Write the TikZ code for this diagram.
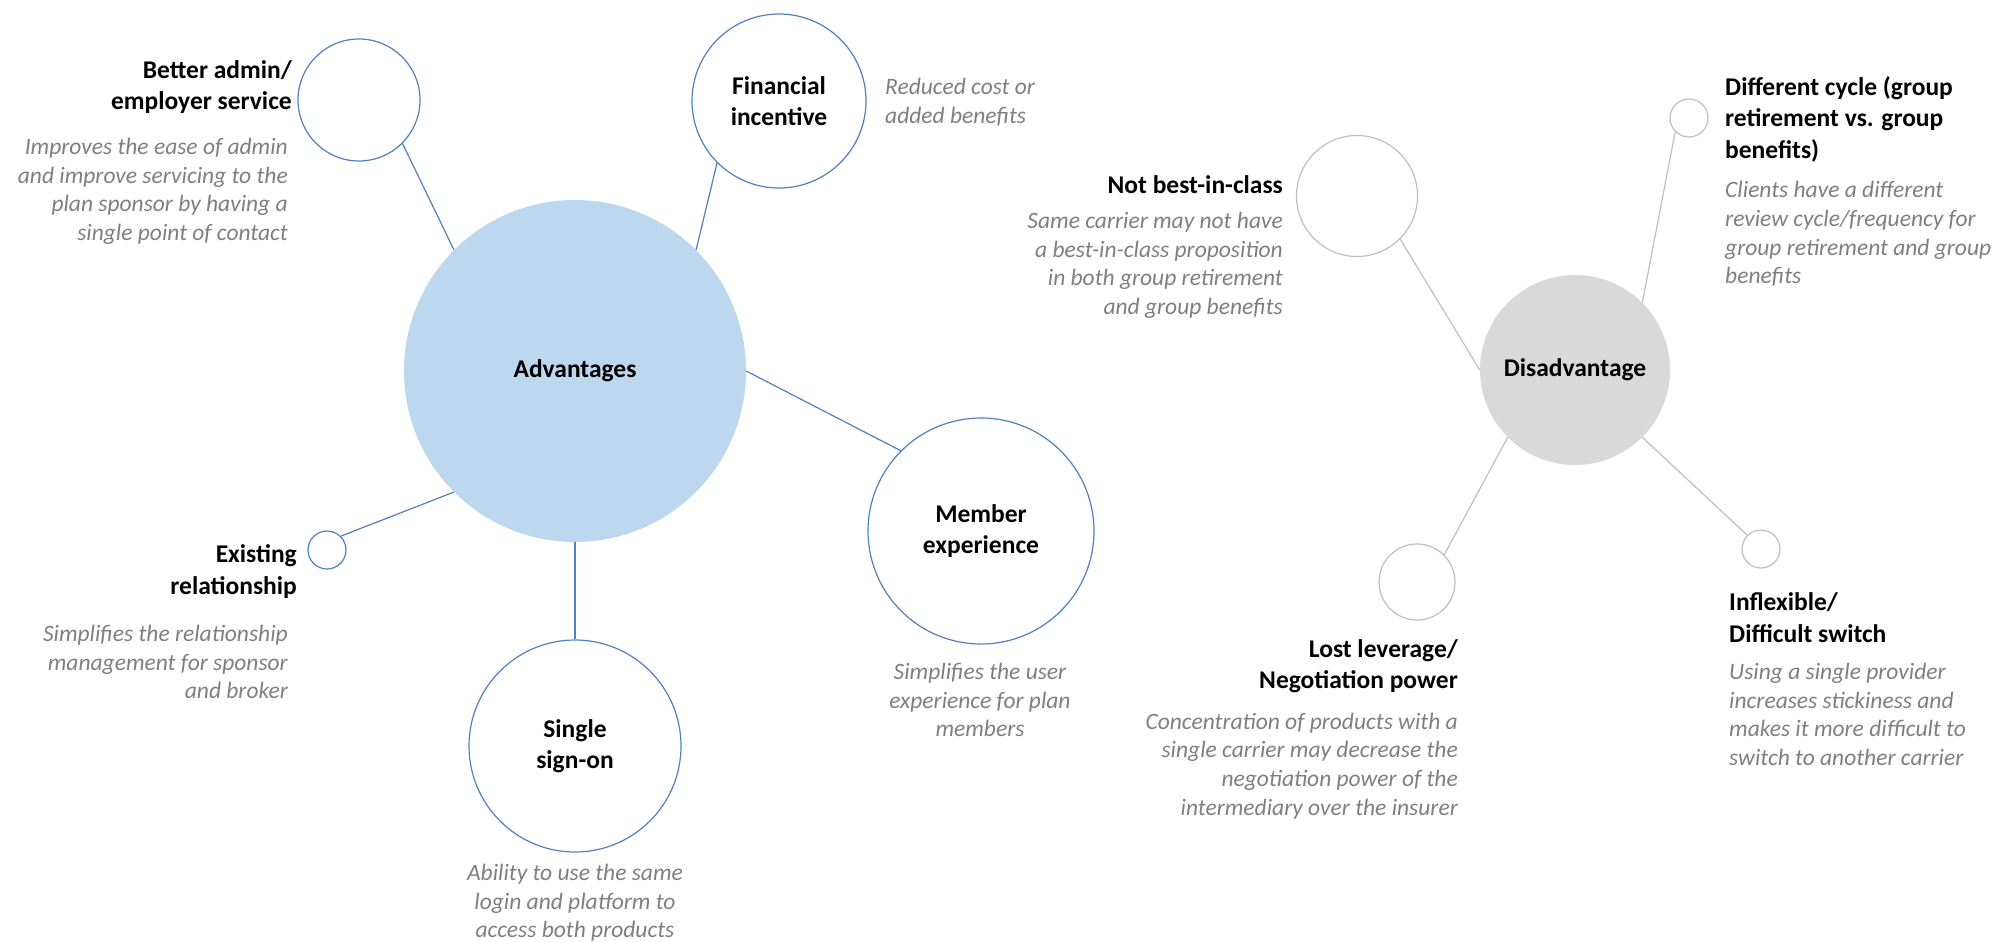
\documentclass[tikz,border=0pt]{standalone}
\usepackage{fontspec}
\setmainfont{Carlito}
\definecolor{advblue}{HTML}{4F81BD}
\definecolor{advfill}{HTML}{BDD7EE}
\definecolor{disfill}{HTML}{D9D9D9}
\definecolor{disline}{HTML}{BFBFBF}
\definecolor{desc}{HTML}{7F7F7F}

\begin{document}
\begin{tikzpicture}[x=1pt,y=-1pt,
  bubble/.style={circle, inner sep=0pt, minimum size=#1},
  advring/.style={bubble=#1, draw=advblue, line width=1.2pt, fill=white},
  disring/.style={bubble=#1, draw=disline, line width=1.2pt, fill=white},
  advlink/.style={draw=advblue, line width=1.2pt},
  dislink/.style={draw=disline, line width=1.2pt},
  title/.style={font=\fontsize{25.5}{31.5}\selectfont\bfseries, inner sep=0pt},
  desc/.style={font=\fontsize{23.5}{28.7}\selectfont\itshape, text=desc, inner sep=0pt},
]
\useasboundingbox (0,0) rectangle (1997,942);

% ---- Advantages cluster ----
\node[bubble=342pt, fill=advfill, title] (adv) at (575,371) {Advantages};
\node[advring=122pt] (admin) at (359,100) {};
\node[advring=174pt, title, align=center] (fin) at (779,101) {Financial\\incentive};
\node[advring=38pt] (exist) at (327,550) {};
\node[advring=212pt, title, align=center] (sso) at (575,746) {Single\\sign-on};
\node[advring=226pt, title, align=center] (mem) at (981,531) {Member\\experience};

\draw[advlink] (admin.-45) -- (adv.135);
\draw[advlink] (fin.225) -- (adv.45);
\draw[advlink] (exist.45) -- (adv.225);
\draw[advlink] (sso.north) -- (adv.south);
\draw[advlink] (mem.135) -- (adv.east);

\node[title, align=right, anchor=east] (adminT) at (292,87) {Better admin/\\employer service};
\node[desc, align=right, anchor=east] (adminD) at (288,191.5) {Improves the ease of admin\\and improve servicing to the\\plan sponsor by having a\\single point of contact};
\node[desc, align=left, anchor=west] (finD) at (885,102.5) {Reduced cost or\\added benefits};
\node[title, align=right, anchor=east] (existT) at (297,571.5) {Existing\\relationship};
\node[desc, align=right, anchor=east] (existD) at (288,662) {Simplifies the relationship\\management for sponsor\\and broker};
\node[desc, align=center] (ssoD) at (575,903) {Ability to use the same\\login and platform to\\access both products};
\node[desc, align=center] (memD) at (980,700) {Simplifies the user\\experience for plan\\members};

% ---- Disadvantage cluster ----
\node[bubble=190pt, fill=disfill, title] (dis) at (1575,370) {Disadvantage};
\node[disring=121pt] (nbc) at (1357,196) {};
\node[disring=38pt] (cyc) at (1689,118) {};
\node[disring=76pt] (lev) at (1417,582) {};
\node[disring=38pt] (infl) at (1761,549) {};

\draw[dislink] (nbc.-45) -- (dis.west);
\draw[dislink] (cyc.225) -- (dis.45);
\draw[dislink] (lev.45) -- (dis.225);
\draw[dislink] (infl.135) -- (dis.-45);

\node[title, anchor=east] (nbcT) at (1283,185) {Not best-in-class};
\node[desc, align=right, anchor=east] (nbcD) at (1283,265.5) {Same carrier may not have\\a best-in-class proposition\\in both group retirement\\and group benefits};
\node[title, align=left, anchor=west] (cycT) at (1725,119) {Different cycle (group\\retirement vs. group\\benefits)};
\node[desc, align=left, anchor=west] (cycD) at (1725,234) {Clients have a different\\review cycle/frequency for\\group retirement and group\\benefits};
\node[title, align=right, anchor=east] (levT) at (1458,666) {Lost leverage/\\Negotiation power};
\node[desc, align=right, anchor=east] (levD) at (1458,766) {Concentration of products with a\\single carrier may decrease the\\negotiation power of the\\intermediary over the insurer};
\node[title, align=left, anchor=west] (inflT) at (1729,617.5) {Inflexible/\\Difficult switch};
\node[desc, align=left, anchor=west] (inflD) at (1729,714.5) {Using a single provider\\increases stickiness and\\makes it more difficult to\\switch to another carrier};
\end{tikzpicture}
\end{document}
